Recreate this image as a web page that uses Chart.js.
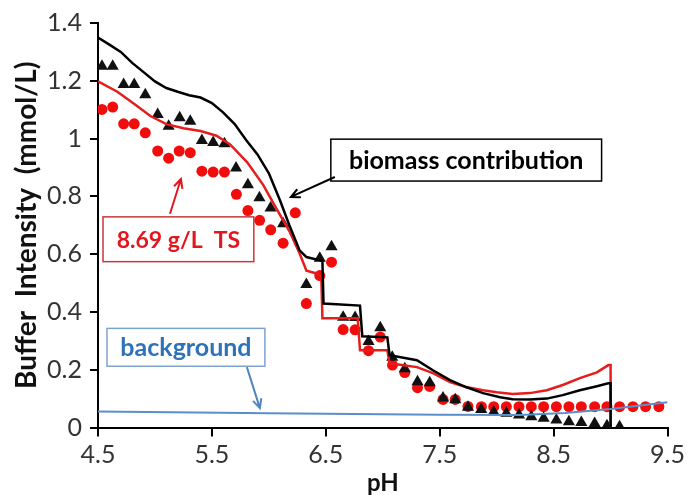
<!DOCTYPE html>
<html>
<head>
<meta charset="utf-8">
<script src="https://cdn.jsdelivr.net/npm/chart.js@4.4.1/dist/chart.umd.min.js"></script>
<style>
  html, body { margin: 0; padding: 0; background: #fff; }
</style>
</head>
<body>
<canvas id="chart" width="688" height="495"></canvas>
<script>
// tick positions
const xTicks = [4.5, 5.5, 6.5, 7.5, 8.5, 9.5];
const yTicks = [0, 0.2, 0.4, 0.6, 0.8, 1, 1.2, 1.4];

// measured: black triangles
const triPH = [4.535, 4.629, 4.725, 4.818, 4.915, 5.024, 5.12, 5.217, 5.31, 5.412,
  5.511, 5.61, 5.712, 5.816, 5.917, 6.015, 6.125, 6.329, 6.447, 6.55,
  6.652, 6.757, 6.875, 6.978, 7.083, 7.193, 7.305, 7.412, 7.529, 7.636,
  7.748, 7.864, 7.974, 8.085, 8.196, 8.304, 8.412, 8.524, 8.634, 8.743,
  8.86, 8.968, 9.079];
const triVal = [1.25, 1.25, 1.187, 1.187, 1.152, 1.083, 1.043, 1.072, 1.06, 0.993,
  0.986, 0.982, 0.898, 0.84, 0.795, 0.76, 0.705, 0.495, 0.586, 0.626,
  0.382, 0.381, 0.298, 0.345, 0.243, 0.203, 0.158, 0.155, 0.102, 0.096,
  0.07, 0.062, 0.054, 0.049, 0.043, 0.037, 0.032, 0.026, 0.02, 0.017,
  0.014, 0.006, 0.003];

// measured: red circles
const dotPH = [4.535, 4.629, 4.725, 4.818, 4.915, 5.024, 5.12, 5.213, 5.31, 5.412,
  5.511, 5.61, 5.715, 5.816, 5.919, 6.016, 6.125, 6.232, 6.329, 6.447,
  6.55, 6.652, 6.757, 6.875, 6.978, 7.085, 7.193, 7.305, 7.412, 7.529,
  7.636, 7.748, 7.866, 7.974, 8.085, 8.196, 8.304, 8.412, 8.524, 8.634,
  8.743, 8.86, 8.968, 9.079, 9.196, 9.307, 9.424];
const dotVal = [1.101, 1.109, 1.051, 1.051, 1.02, 0.957, 0.932, 0.957, 0.951, 0.887,
  0.884, 0.884, 0.807, 0.751, 0.717, 0.684, 0.638, 0.743, 0.429, 0.526,
  0.572, 0.339, 0.338, 0.266, 0.313, 0.216, 0.19, 0.138, 0.142, 0.097,
  0.097, 0.073, 0.072, 0.072, 0.072, 0.072, 0.072, 0.072, 0.072, 0.072,
  0.072, 0.072, 0.072, 0.072, 0.072, 0.072, 0.072];

// biomass contribution (black line)
const bioPH = [4.5, 4.6, 4.7, 4.8, 4.9, 5.0, 5.1, 5.2, 5.3, 5.4, 5.5, 5.6, 5.7, 5.8,
  5.9, 6.0, 6.1, 6.18, 6.27, 6.33, 6.4, 6.47, 6.48, 6.8, 6.82, 7.04, 7.06,
  7.3, 7.44, 7.59, 7.73, 7.88, 8.03, 8.14, 8.29, 8.44, 8.58, 8.73, 8.88, 8.98, 9.0, 9.0];
const bioVal = [1.35, 1.325, 1.3, 1.262, 1.23, 1.198, 1.175, 1.162, 1.15, 1.142, 1.123, 1.09, 1.05, 0.995,
  0.945, 0.88, 0.784, 0.7, 0.613, 0.59, 0.583, 0.576, 0.429, 0.422, 0.316, 0.312, 0.25,
  0.233, 0.198, 0.164, 0.14, 0.119, 0.105, 0.098, 0.097, 0.1, 0.112, 0.129, 0.143, 0.153, 0.153, 0.0];

// 8.69 g/L TS (red line)
const tsPH = [4.5, 4.67, 4.81, 4.96, 5.1, 5.25, 5.4, 5.54, 5.66, 5.81, 5.95, 6.07, 6.18,
  6.27, 6.33, 6.42, 6.46, 6.47, 6.78, 6.8, 7.04, 7.06, 7.3, 7.44, 7.59, 7.73, 7.88,
  8.0, 8.14, 8.29, 8.44, 8.58, 8.73, 8.88, 8.98, 9.0, 9.0];
const tsVal = [1.198, 1.162, 1.122, 1.078, 1.05, 1.036, 1.026, 1.01, 0.98, 0.918, 0.84, 0.755, 0.68,
  0.602, 0.543, 0.533, 0.526, 0.378, 0.378, 0.267, 0.267, 0.222, 0.209, 0.188, 0.157, 0.14, 0.129,
  0.122, 0.116, 0.119, 0.129, 0.147, 0.171, 0.191, 0.216, 0.216, 0.0];

// background (blue line)
const bgPH = [4.5, 6.0, 7.5, 8.2, 8.6, 9.0, 9.5];
const bgVal = [0.055, 0.049, 0.044, 0.043, 0.05, 0.064, 0.087];

const pts = (xs, ys) => xs.map((x, i) => ({ x: x, y: ys[i] }));

// labels with boxes and arrows, placed in data units
const notes = [
  { text: "biomass contribution", color: "#000", border: "#000", line: "#000", size: 25,
    box: [6.544, 0.998, 8.921, 0.853], arrow: [6.579, 0.867, 6.193, 0.798] },
  { text: "8.69 g/L  TS", color: "#e3161e", border: "#c43a3a", line: "#e3161e", size: 23,
    box: [4.544, 0.729, 5.868, 0.574], arrow: [5.132, 0.74, 5.228, 0.86] },
  { text: "background", color: "#2e72b8", border: "#7fa3cf", line: "#4f86c0", size: 25,
    box: [4.579, 0.343, 5.965, 0.212], arrow: [5.807, 0.209, 5.921, 0.067] },
];

const notePlugin = {
  id: "notes",
  afterDatasetsDraw(chart) {
    const { ctx } = chart;
    const x = chart.scales.x, y = chart.scales.y;
    ctx.save();
    notes.forEach((n) => {
      const x0 = x.getPixelForValue(n.box[0]), y0 = y.getPixelForValue(n.box[1]);
      const x1 = x.getPixelForValue(n.box[2]), y1 = y.getPixelForValue(n.box[3]);
      ctx.fillStyle = "#fff";
      ctx.fillRect(x0, y0, x1 - x0, y1 - y0);
      ctx.strokeStyle = n.border;
      ctx.lineWidth = 1.5;
      ctx.strokeRect(x0, y0, x1 - x0, y1 - y0);
      ctx.fillStyle = n.color;
      ctx.font = "bold " + n.size + "px Lato";
      ctx.textAlign = "center";
      ctx.textBaseline = "middle";
      ctx.fillText(n.text, (x0 + x1) / 2, (y0 + y1) / 2 + 1);

      // arrow
      const ax = x.getPixelForValue(n.arrow[0]), ay = y.getPixelForValue(n.arrow[1]);
      const bx = x.getPixelForValue(n.arrow[2]), by = y.getPixelForValue(n.arrow[3]);
      const ang = Math.atan2(by - ay, bx - ax);
      ctx.strokeStyle = n.line;
      ctx.lineWidth = 2;
      ctx.beginPath();
      ctx.moveTo(ax, ay);
      ctx.lineTo(bx, by);
      ctx.moveTo(bx - 10 * Math.cos(ang - 0.45), by - 10 * Math.sin(ang - 0.45));
      ctx.lineTo(bx, by);
      ctx.lineTo(bx - 10 * Math.cos(ang + 0.45), by - 10 * Math.sin(ang + 0.45));
      ctx.stroke();
    });
    ctx.restore();
  },
};

const tickFont = { family: "Lato", size: 25 };

new Chart(document.getElementById("chart"), {
  type: "scatter",
  data: {
    datasets: [
      {
        type: "line", data: pts(bgPH, bgVal), borderColor: "#5b8fc9",
        borderWidth: 2, pointRadius: 0, order: 0,
      },
      {
        type: "line", data: pts(bioPH, bioVal), borderColor: "#000",
        borderWidth: 2.5, pointRadius: 0, order: 1,
      },
      {
        type: "line", data: pts(tsPH, tsVal), borderColor: "#e51d1d",
        borderWidth: 2.5, pointRadius: 0, order: 2,
      },
      {
        data: pts(triPH, triVal), pointStyle: "triangle", pointRadius: 7,
        backgroundColor: "#111", borderColor: "#111", borderWidth: 0, order: 3,
      },
      {
        data: pts(dotPH, dotVal), pointStyle: "circle", pointRadius: 5.5,
        backgroundColor: "#f20d0d", borderColor: "#f20d0d", borderWidth: 0, order: 4,
      },
    ],
  },
  options: {
    responsive: false,
    animation: false,
    layout: { padding: { top: 21, right: 20, left: 0, bottom: 0 } },
    plugins: { legend: { display: false }, tooltip: { enabled: false } },
    scales: {
      x: {
        type: "linear", min: 4.5, max: 9.5,
        afterBuildTicks: (s) => { s.ticks = xTicks.map((v) => ({ value: v })); },
        afterFit: (s) => { s.height = 67.5; },
        grid: { display: true, drawOnChartArea: false, drawTicks: true, tickLength: 9, color: "#000", lineWidth: 2 },
        border: { color: "#000", width: 2 },
        ticks: { font: tickFont, color: "#333", padding: 3, maxRotation: 0, callback: (v) => v.toFixed(1) },
        title: { display: true, text: "pH", font: { family: "Lato", size: 24, weight: "bold" }, color: "#111", padding: { top: 0, bottom: -3 } },
      },
      y: {
        min: 0, max: 1.4,
        afterBuildTicks: (s) => { s.ticks = yTicks.map((v) => ({ value: v })); },
        afterFit: (s) => { s.width = 98; },
        grid: { display: true, drawOnChartArea: false, drawTicks: true, tickLength: 8, color: "#000", lineWidth: 2 },
        border: { color: "#000", width: 2 },
        ticks: { font: tickFont, color: "#333", padding: 8, callback: (v) => String(+v.toFixed(1)) },
        title: { display: true, text: "Buffer  Intensity  (mmol/L)", font: { family: "Lato", size: 28, weight: "bold" }, color: "#111", padding: { top: 10, bottom: 0 } },
      },
    },
  },
  plugins: [notePlugin],
});
</script>
</body>
</html>
